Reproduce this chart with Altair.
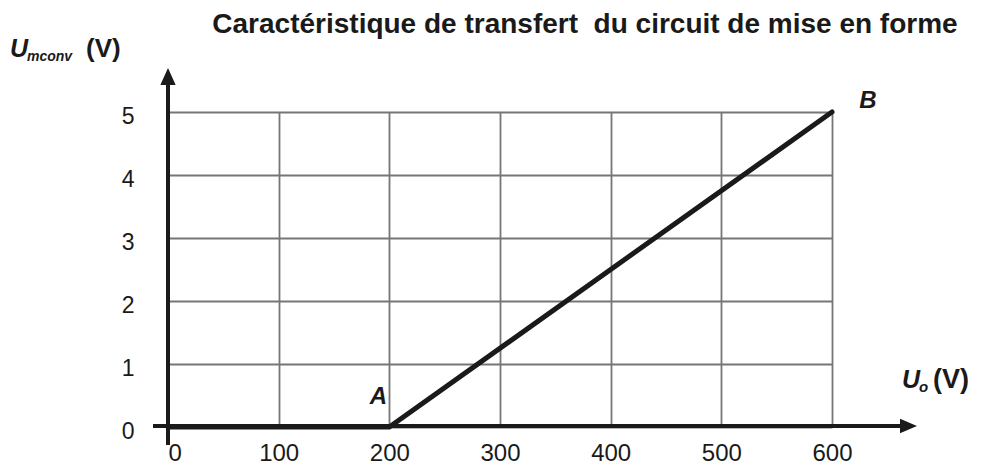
import altair as alt
import pandas as pd

# Data
uo_values = [0, 200, 600]          # U_o (V)
umconv_values = [0, 0, 5]          # U_mconv (V)
x_ticks = [0, 100, 200, 300, 400, 500, 600]
y_ticks = [0, 1, 2, 3, 4, 5]
point_names = ["A", "B"]
point_uo = [200, 600]
point_um = [0, 5]
title_text = "Caractéristique de transfert \u00a0du circuit de mise en forme"

W, H = 664, 315
FONT = "Liberation Sans"
INK = "#1a1a1a"

curve = pd.DataFrame({"uo": uo_values, "um": umconv_values})
pts = pd.DataFrame({"name": point_names, "uo": point_uo, "um": point_um})
one = pd.DataFrame({"k": [0]})

xscale = alt.Scale(domain=[0, 600], nice=False, zero=False)
yscale = alt.Scale(domain=[0, 5], nice=False, zero=False)

line = alt.Chart(curve).mark_line(color=INK, strokeWidth=5, strokeCap="round", strokeJoin="miter").encode(
    x=alt.X("uo:Q", scale=xscale, axis=alt.Axis(
        values=x_ticks, format="d", title=None, grid=True, gridColor="#767676", gridWidth=1.8,
        domain=False, ticks=False, labelFontSize=24, labelFont=FONT, labelColor=INK,
        labelPadding=14, labelFlush=False,
        labelAlign={"condition": {"test": "datum.value == 0", "value": "left"}, "value": "center"})),
    y=alt.Y("um:Q", scale=yscale, axis=alt.Axis(
        values=y_ticks, format="d", title=None, grid=True, gridColor="#767676", gridWidth=1.8,
        domain=False, ticks=False, labelFontSize=23, labelFont=FONT, labelColor=INK,
        labelPadding=34, labelFlush=False, labelOffset=4)),
)

# drawn axes with arrows
yaxis = alt.Chart(one).mark_rule(color=INK, strokeWidth=4).encode(
    x=alt.value(0), y=alt.value(-30), y2=alt.value(333))
xaxis = alt.Chart(one).mark_rule(color=INK, strokeWidth=4).encode(
    x=alt.value(-15), x2=alt.value(735), y=alt.value(314))
yarrow = alt.Chart(one).mark_point(shape="M0,-1L0.9,1L-0.9,1Z", filled=True, color=INK,
                                   opacity=1, size=289, strokeWidth=0).encode(
    x=alt.value(0), y=alt.value(-35.5))
xarrow = alt.Chart(one).mark_point(shape="M1,0L-1,-0.85L-1,0.85Z", filled=True, color=INK,
                                   opacity=1, size=289, strokeWidth=0).encode(
    x=alt.value(740.5), y=alt.value(314))

lab_a = alt.Chart(pts).transform_filter(alt.datum.name == "A").mark_text(
    font=FONT, fontSize=24, fontWeight="bold", fontStyle="italic", color=INK, dx=-11, dy=-30
).encode(x=alt.X("uo:Q", scale=xscale), y=alt.Y("um:Q", scale=yscale), text="name:N")
lab_b = alt.Chart(pts).transform_filter(alt.datum.name == "B").mark_text(
    font=FONT, fontSize=24, fontWeight="bold", fontStyle="italic", color=INK, dx=36, dy=-11
).encode(x=alt.X("uo:Q", scale=xscale), y=alt.Y("um:Q", scale=yscale), text="name:N")

def txt(s, x, y, size, style="normal", weight="bold", align="left"):
    return alt.Chart(one).mark_text(
        text=s, font=FONT, fontSize=size, fontWeight=weight, fontStyle=style,
        color=INK, align=align, baseline="alphabetic"
    ).encode(x=alt.value(x), y=alt.value(y))

title = txt(title_text, 417, -79, 28, align="center")
ylab = [txt("U", -158, -55, 25, "italic"), txt("mconv", -141, -51, 14, "italic"),
        txt("(V)", -82, -55, 26)]
xlab = [txt("U", 734, 276, 25, "italic"), txt("o", 751, 280, 15, "italic"),
        txt("(V)", 765, 276, 27)]

chart = alt.layer(line, yaxis, xaxis, yarrow, xarrow, lab_a, lab_b, title, *ylab, *xlab).properties(
    width=W, height=H,
    padding={"left": 160, "top": 104, "right": 141, "bottom": 38},
    autosize=alt.AutoSizeParams(type="none"),
).configure_view(stroke=None).configure(background="white")

chart.save("out.html", embed_options={"renderer": "svg", "actions": False})
